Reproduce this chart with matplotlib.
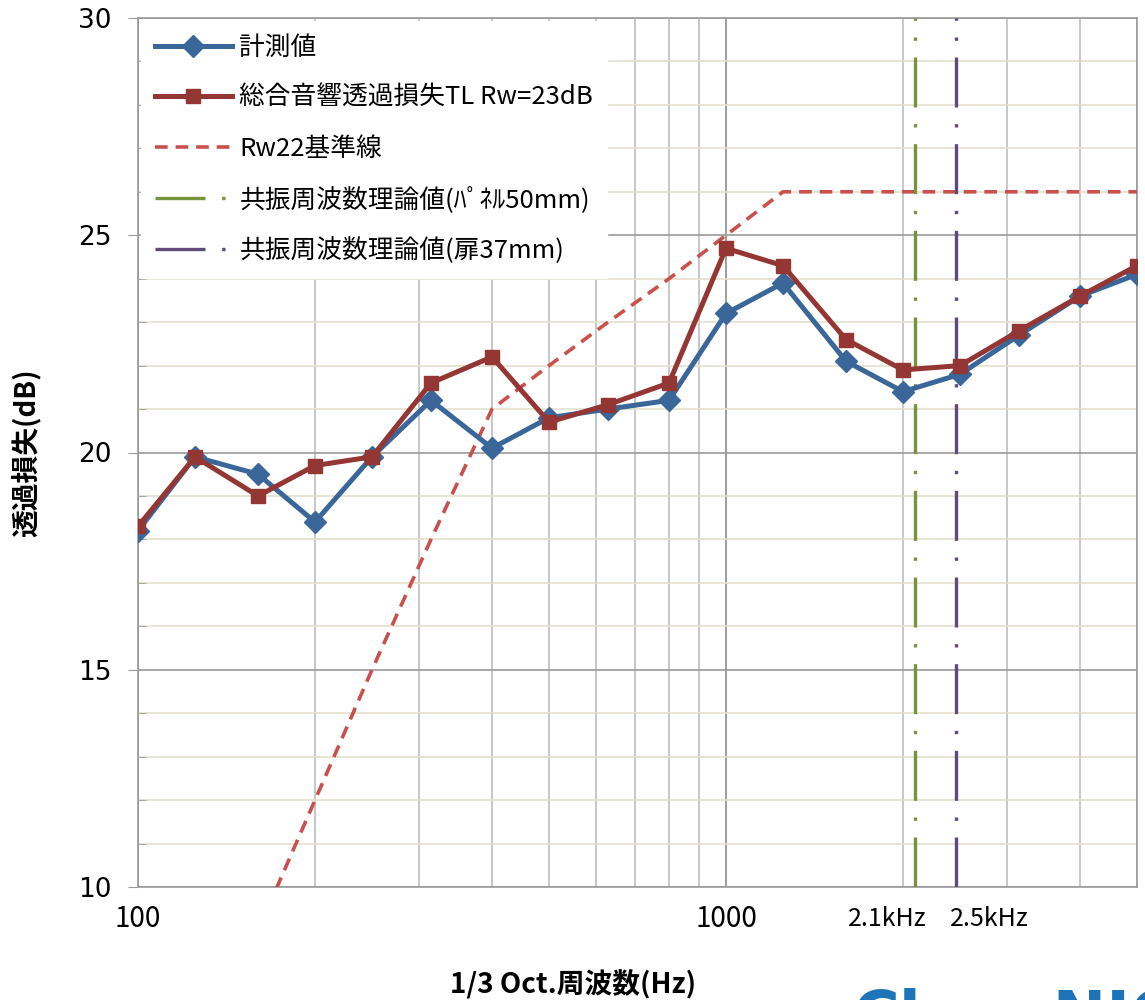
import matplotlib
matplotlib.use("Agg")
import matplotlib.pyplot as plt
from matplotlib.ticker import FixedLocator, MultipleLocator, NullFormatter, FixedFormatter
import matplotlib.transforms as mtransforms

plt.rcParams['font.family'] = ['Noto Sans CJK JP', 'DejaVu Sans']

freqs = [100, 125, 160, 200, 250, 315, 400, 500, 630, 800, 1000, 1250, 1600, 2000, 2500, 3150, 4000, 5000]
measured = [18.2, 19.9, 19.5, 18.4, 19.9, 21.2, 20.1, 20.8, 21.0, 21.2, 23.2, 23.9, 22.1, 21.4, 21.8, 22.7, 23.6, 24.1]
total_tl = [18.3, 19.9, 19.0, 19.7, 19.9, 21.6, 22.2, 20.7, 21.1, 21.6, 24.7, 24.3, 22.6, 21.9, 22.0, 22.8, 23.6, 24.3]
rw22_ref = [3, 6, 9, 12, 15, 18, 21, 22, 23, 24, 25, 26, 26, 26, 26, 26, 26, 26]
res_panel = 2100
res_door = 2460
vline_labels = ['2.1kHz', '2.5kHz']
vline_label_x = [1880, 2800]

labels = ['計測値', '総合音響透過損失TL Rw=23dB', 'Rw22基準線',
          '共振周波数理論値(ﾊﾟﾈﾙ50mm)', '共振周波数理論値(扉37mm)']

c_blue = '#3a6699'
c_red = '#943634'
c_ref = '#c9504d'
c_green = '#77933c'
c_purple = '#604a7b'

fig = plt.figure(figsize=(11.45, 10), dpi=100)
ax = fig.add_axes([138/1145, 1 - 887/1000, (1137-138)/1145, (887-18)/1000])

ax.set_xscale('log')
ax.set_xlim(100, 5000)
ax.set_ylim(10, 30)

# grid
ax.yaxis.set_major_locator(MultipleLocator(5))
ax.yaxis.set_minor_locator(MultipleLocator(1))
ax.xaxis.set_major_locator(FixedLocator([100, 1000]))
ax.xaxis.set_minor_locator(FixedLocator([200, 300, 400, 500, 600, 700, 800, 900,
                                         2000, 3000, 4000, 5000]))
ax.xaxis.set_major_formatter(FixedFormatter(['100', '1000']))
ax.xaxis.set_minor_formatter(NullFormatter())
ax.grid(which='major', axis='y', color='#9a9a9a', lw=1.2, zorder=0)
ax.grid(which='minor', axis='y', color='#e4e0cc', lw=1.2, zorder=0)
ax.grid(which='major', axis='x', color='#8c8c8c', lw=1.2, zorder=0)
ax.grid(which='minor', axis='x', color='#bdbdbd', lw=1.2, zorder=0)
ax.set_axisbelow(True)

for s in ax.spines.values():
    s.set_color('#9a9a9a')
    s.set_linewidth(1.2)

ax.tick_params(axis='y', which='major', direction='out', length=7, color='#9a9a9a',
               labelsize=19, pad=12, labelfontfamily='DejaVu Sans')
ax.tick_params(axis='y', which='minor', direction='in', length=6, color='#9a9a9a')
ax.tick_params(axis='x', which='both', length=0, labelsize=20, pad=12)

# data
ax.plot(freqs, rw22_ref, color=c_ref, lw=2.6, dashes=(3.5, 2.2), label=labels[2], zorder=3)
ax.plot(freqs, measured, color=c_blue, lw=3.6, marker='D', markersize=11.5,
        label=labels[0], zorder=4)
ax.plot(freqs, total_tl, color=c_red, lw=3.6, marker='s', markersize=10.5,
        label=labels[1], zorder=5)
ax.axvline(res_panel, color=c_green, lw=2.4, dashes=(15, 5, 1, 5), label=labels[3], zorder=3)
ax.axvline(res_door, color=c_purple, lw=2.4, dashes=(15, 5, 1, 5), label=labels[4], zorder=3)

trans = mtransforms.blended_transform_factory(ax.transData, ax.transAxes)
for lx, lt in zip(vline_label_x, vline_labels):
    ax.text(lx, -0.022, lt, transform=trans, ha='center', va='top', fontsize=18)

handles, lbls = ax.get_legend_handles_labels()
order = [1, 2, 0, 3, 4]
leg = ax.legend([handles[i] for i in order], [lbls[i] for i in order],
                loc='upper left', fontsize=18.5, frameon=True, fancybox=False,
                framealpha=1, edgecolor='white', handlelength=3.0,
                handletextpad=0.3, labelspacing=0.95, borderaxespad=0.1,
                borderpad=0.55)
leg.set_zorder(6)

ax.set_ylabel('透過損失(dB)', fontsize=20, fontweight='bold', labelpad=26)
ax.set_xlabel('1/3 Oct.周波数(Hz)', fontsize=20, fontweight='bold')
ax.xaxis.set_label_coords((573 - 138) / 999, -0.095)

fig.text(853/1145, 0.012, 'CleanNIC', color='#1f74b8', fontsize=46, fontweight='bold',
         ha='left', va='top', family=['DejaVu Sans'])

fig.savefig('out.png', dpi=100)
